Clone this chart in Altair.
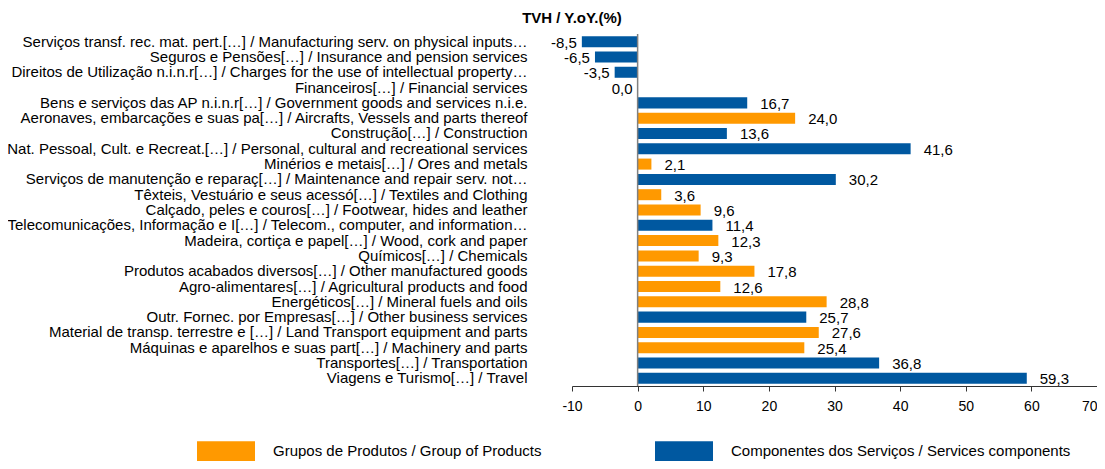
import altair as alt
import pandas as pd

categories = [
    "Serviços transf. rec. mat. pert.[…] / Manufacturing serv. on physical inputs…",
    "Seguros e Pensões[…] / Insurance and pension services",
    "Direitos de Utilização n.i.n.r[…] / Charges for the use of intellectual property…",
    "Financeiros[…] / Financial services",
    "Bens e serviços das AP n.i.n.r[…] / Government goods and services n.i.e.",
    "Aeronaves, embarcações e suas pa[…] / Aircrafts, Vessels and parts thereof",
    "Construção[…] / Construction",
    "Nat. Pessoal, Cult. e Recreat.[…] / Personal, cultural and recreational services",
    "Minérios e metais[…] / Ores and metals\u00a0",
    "Serviços de manutenção e reparaç[…] / Maintenance and repair serv. not…",
    "Têxteis, Vestuário e seus acessó[…] / Textiles and Clothing\u00a0",
    "Calçado, peles e couros[…] / Footwear, hides and leather",
    "Telecomunicações, Informação e I[…] / Telecom., computer, and information…",
    "Madeira, cortiça e papel[…] / Wood, cork and paper",
    "Químicos[…] / Chemicals",
    "Produtos acabados diversos[…] / Other manufactured goods",
    "Agro-alimentares[…] / Agricultural products and food",
    "Energéticos[…] / Mineral fuels and oils",
    "Outr. Fornec. por Empresas[…] / Other business services",
    "Material de transp. terrestre e […] / Land Transport equipment and parts",
    "Máquinas e aparelhos e suas part[…] / Machinery and parts",
    "Transportes[…] / Transportation",
    "Viagens e Turismo[…] / Travel",
]
values = [-8.5, -6.5, -3.5, 0.0, 16.7, 24.0, 13.6, 41.6, 2.1, 30.2, 3.6, 9.6,
          11.4, 12.3, 9.3, 17.8, 12.6, 28.8, 25.7, 27.6, 25.4, 36.8, 59.3]
G_P = "Grupos de Produtos / Group of Products"
G_S = "Componentes dos Serviços / Services components"
groups = [G_S, G_S, G_S, G_S, G_S, G_P, G_S, G_S, G_P, G_S, G_P, G_P,
          G_S, G_P, G_P, G_P, G_P, G_P, G_S, G_P, G_P, G_S, G_S]
x_ticks = [-10, 0, 10, 20, 30, 40, 50, 60, 70]
title_text = "TVH / Y.oY.(%)"

df = pd.DataFrame({"cat": categories, "val": values, "grp": groups})
df["lbl"] = df["val"].map(lambda v: f"{v:.1f}".replace(".", ","))

FONT = "Liberation Sans"
BLUE = "#0058A0"
ORANGE = "#FF9900"

y_enc = alt.Y("cat:N", sort=categories, title=None,
              scale=alt.Scale(paddingInner=0.28, paddingOuter=0.14),
              axis=alt.Axis(domain=False, ticks=False, labelPadding=45,
                            labelFontSize=15, labelFont=FONT, labelColor="#000",
                            labelLimit=0))
x_scale = alt.Scale(domain=[-10, 70], nice=False, zero=False)

base = alt.Chart(df)

bars = base.mark_bar().encode(
    x=alt.X("val:Q", scale=x_scale, title=None,
            axis=alt.Axis(values=x_ticks, grid=False, domainColor="#333",
                          tickColor="#333", tickSize=5, labelPadding=8,
                          labelExpr="'' + datum.value", labelFlush=False,
                          labelAlign={"condition": {"test": "datum.value == 70", "value": "right"},
                                      "value": "center"},
                          labelFontSize=14, labelFont=FONT, labelColor="#000",
                          domainWidth=1)),
    y=y_enc,
    color=alt.Color("grp:N", scale=alt.Scale(domain=[G_P, G_S], range=[ORANGE, BLUE]),
                    legend=alt.Legend(title=None, orient="none", direction="horizontal",
                                      legendX=-375, legendY=388,
                                      symbolType="M-1,-0.35H1V0.35H-1Z",
                                      symbolSize=3364, symbolStrokeWidth=0,
                                      symbolOpacity=1,
                                      labelFontSize=15, labelFont=FONT,
                                      labelColor="#000", labelOffset=18,
                                      columnPadding=113, labelLimit=0)),
)

pos_text = base.transform_filter("datum.val > 0").mark_text(
    align="left", baseline="middle", dx=13, dy=1, fontSize=15, font=FONT, color="#000"
).encode(x=alt.X("val:Q", scale=x_scale), y=alt.Y("cat:N", sort=categories), text="lbl:N")

neg_text = base.transform_filter("datum.val <= 0").mark_text(
    align="right", baseline="middle", dx=-5, dy=1, fontSize=15, font=FONT, color="#000"
).encode(x=alt.X("val:Q", scale=x_scale), y=alt.Y("cat:N", sort=categories), text="lbl:N")

zero_rule = alt.Chart(pd.DataFrame({"z": [0]})).mark_rule(color="#808080", strokeWidth=1.5).encode(
    x=alt.X("z:Q", scale=x_scale)
)

title = alt.Chart(pd.DataFrame({"t": [title_text]})).mark_text(
    align="center", baseline="middle", fontSize=15, fontWeight="bold", font=FONT, color="#000"
).encode(text="t:N", x=alt.value(0), y=alt.value(-16))

chart = alt.layer(bars, zero_rule, pos_text, neg_text, title).properties(
    width=525, height=352,
    autosize=alt.AutoSizeParams(type="none"),
    padding={"left": 564, "top": 26, "right": 0, "bottom": 75},
).configure_view(stroke=None)

chart.save("out.html", embed_options={"renderer": "svg", "actions": False})
